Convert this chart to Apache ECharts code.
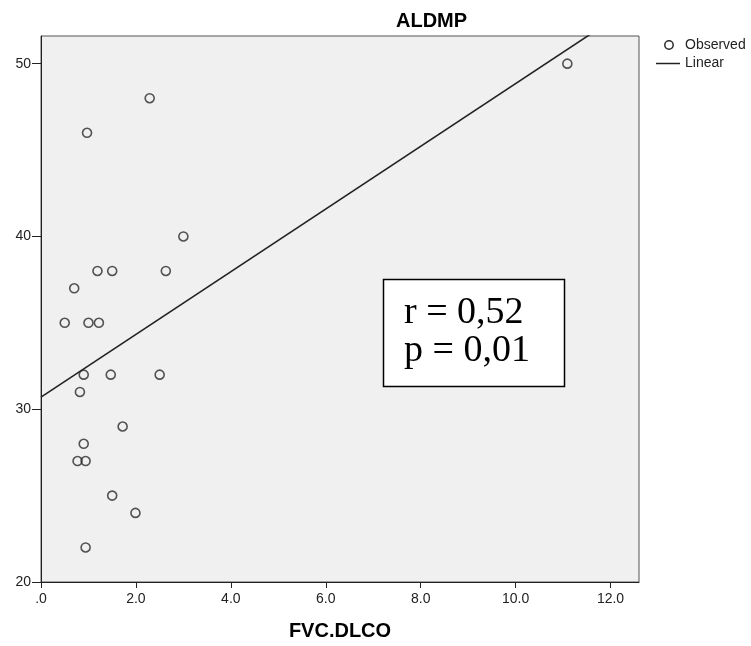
<!DOCTYPE html>
<html><head><meta charset="utf-8">
<script src="https://cdn.jsdelivr.net/npm/echarts@6/dist/echarts.min.js"></script>
<style>html,body{margin:0;padding:0;background:#fff}#c{width:751px;height:646px}</style>
</head><body><div id="c"></div>
<script>
const fvcDlco = [11.09, 2.29, 0.97, 3.00, 1.19, 1.50, 2.63, 0.70, 0.50, 1.00, 1.22, 0.90, 1.47, 2.50, 0.82, 1.72, 0.90, 0.77, 0.94, 1.50, 1.99, 0.94];
const aldmp   = [50, 48, 46, 40, 38, 38, 38, 37, 35, 35, 35, 32, 32, 32, 31, 29, 28, 27, 27, 25, 24, 22];
const xTicks = [0, 2, 4, 6, 8, 10, 12];
const yTicks = [20, 30, 40, 50];
const chartTitle = 'ALDMP';
const xName = 'FVC.DLCO';
const legendNames = ['Observed', 'Linear'];
const statLines = ['r = 0,52', 'p = 0,01'];

const X_MIN = 0, X_MAX = 12.6, Y_MIN = 20, Y_MAX = 51.6;

// least squares fit
const n = fvcDlco.length;
const mx = fvcDlco.reduce((a, b) => a + b, 0) / n;
const my = aldmp.reduce((a, b) => a + b, 0) / n;
let sxy = 0, sxx = 0;
for (let i = 0; i < n; i++) { sxy += (fvcDlco[i] - mx) * (aldmp[i] - my); sxx += (fvcDlco[i] - mx) ** 2; }
const slope = sxy / sxx, intercept = my - slope * mx;

const points = fvcDlco.map((x, i) => [x, aldmp[i]]);
const fitLine = [[X_MIN, intercept], [X_MAX, intercept + slope * X_MAX]];

const chart = echarts.init(document.getElementById('c'), null, { renderer: 'canvas' });
const ink = '#222';
const font = 'Liberation Sans, Arial, sans-serif';

chart.setOption({
  animation: false,
  backgroundColor: '#fff',
  title: {
    text: chartTitle, left: 391, top: 6,
    textStyle: { fontFamily: font, fontWeight: 'bold', fontSize: 20, color: '#000' }
  },
  grid: {
    left: 41, right: 112, top: 36, bottom: 62,
    show: true, backgroundColor: '#f0f0f0', borderColor: '#555', borderWidth: 1
  },
  xAxis: {
    type: 'value', min: X_MIN, max: X_MAX,
    name: xName, nameLocation: 'middle', nameGap: 39,
    nameTextStyle: { fontFamily: font, fontWeight: 'bold', fontSize: 20, color: '#000' },
    axisLine: { show: true, lineStyle: { color: ink, width: 1 } },
    axisTick: { show: true, length: 6, customValues: xTicks, lineStyle: { color: ink } },
    axisLabel: {
      customValues: xTicks, margin: 10, fontFamily: font, fontSize: 14, color: ink,
      formatter: v => v === 0 ? '.0' : v.toFixed(1)
    },
    splitLine: { show: false }
  },
  yAxis: {
    type: 'value', min: Y_MIN, max: Y_MAX,
    axisLine: { show: true, lineStyle: { color: ink, width: 1 } },
    axisTick: { show: true, length: 9, customValues: yTicks, lineStyle: { color: ink } },
    axisLabel: { customValues: yTicks, margin: 10, fontFamily: font, fontSize: 14, color: ink },
    splitLine: { show: false }
  },
  series: [
    {
      name: legendNames[0], type: 'scatter', data: points, symbol: 'circle', symbolSize: 9,
      itemStyle: { color: 'rgba(0,0,0,0)', borderColor: '#2a2a2a', borderWidth: 1.6 }, z: 3
    },
    {
      name: legendNames[1], type: 'line', data: fitLine, showSymbol: false, symbol: 'none',
      clip: true, lineStyle: { color: ink, width: 1.6 }, z: 2
    }
  ],
  graphic: [
    { type: 'circle', shape: { cx: 669, cy: 45, r: 4.2 }, style: { fill: 'none', stroke: '#2a2a2a', lineWidth: 1.5 } },
    { type: 'text', x: 685, y: 45, style: { text: legendNames[0], font: '14px ' + font, fill: ink, verticalAlign: 'middle' } },
    { type: 'line', shape: { x1: 656, y1: 63.5, x2: 680, y2: 63.5 }, style: { stroke: ink, lineWidth: 1.5 } },
    { type: 'text', x: 685, y: 63, style: { text: legendNames[1], font: '14px ' + font, fill: ink, verticalAlign: 'middle' } },
    { type: 'rect', shape: { x: 383.5, y: 279.5, width: 181, height: 107 }, style: { fill: '#fff', stroke: '#000', lineWidth: 1.5 }, z: 10 },
    { type: 'text', x: 404, y: 313, z: 11, style: { text: statLines[0], font: '38px Liberation Serif, Times New Roman, serif', fill: '#000', verticalAlign: 'middle' } },
    { type: 'text', x: 404, y: 351, z: 11, style: { text: statLines[1], font: '38px Liberation Serif, Times New Roman, serif', fill: '#000', verticalAlign: 'middle' } }
  ]
});
</script></body></html>
